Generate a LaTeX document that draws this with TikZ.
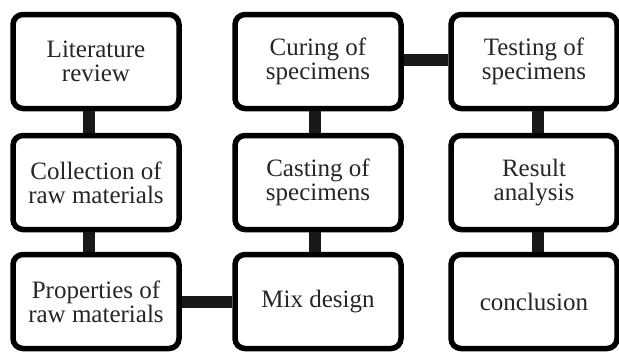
\documentclass[tikz,border=0pt]{standalone}
\usepackage{fontspec}
\setmainfont{Liberation Serif}
\newfontfamily\boxfont{Liberation Serif}
\tikzset{
  stage/.style={draw, line width=5.5pt, rounded corners=10pt, fill=white,
    minimum width=166pt, minimum height=94pt, align=center,
    text=black!85, font=\boxfont\fontsize{25}{24}\selectfont},
  link/.style={line width=12pt, black!90}
}
\begin{document}
\begin{tikzpicture}[x=1pt,y=-1pt]
        \useasboundingbox (0,0) rectangle (619,354);
        % first column
        \node[stage] (lit) at (96,61.5) {Literature\\review};
        \node[stage] (coll) at (96,182.5) {Collection of\\raw materials};
        \node[stage] (prop) at (96,301.5) {Properties of\\raw materials};
        % second column
        \node[stage] (cure) at (318,61.5) {Curing of\\specimens};
        \node[stage] (cast) at (318,182.5) {Casting of\\specimens};
        \node[stage] (mix) at (318,301.5) {Mix design};
        % third column
        \node[stage] (test) at (534,61.5) {Testing of\\specimens};
        \node[stage] (res) at (534,182.5) {Result\\analysis};
        \node[stage] (concl) at (534,301.5) {conclusion};
        % connectors
        \draw[link] ([xshift=-7pt]lit.south) -- ([xshift=-7pt]coll.north);
        \draw[link] ([xshift=-7pt]coll.south) -- ([xshift=-7pt]prop.north);
        \draw[link] (prop.east) -- (mix.west);
        \draw[link] ([xshift=-3pt]mix.north) -- ([xshift=-3pt]cast.south);
        \draw[link] ([xshift=-3pt]cast.north) -- ([xshift=-3pt]cure.south);
        \draw[link] ([yshift=2pt]cure.east) -- ([yshift=2pt]test.west);
        \draw[link] ([xshift=4pt]test.south) -- ([xshift=4pt]res.north);
        \draw[link] ([xshift=4pt]res.south) -- ([xshift=4pt]concl.north);
\end{tikzpicture}
\end{document}
